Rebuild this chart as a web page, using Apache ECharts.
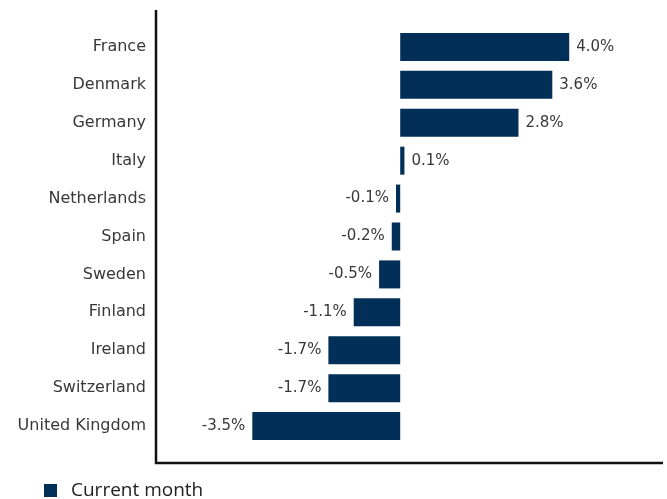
<!DOCTYPE html>
<html>
<head>
<meta charset="utf-8">
<script src="https://cdn.jsdelivr.net/npm/echarts@6/dist/echarts.min.js"></script>
<style>
  html, body { margin: 0; padding: 0; background: #fff; }
  #chart { width: 667px; height: 499px; }
</style>
</head>
<body>
<div id="chart"></div>
<script>
// Monthly change by country, top to bottom
const countries = ['France', 'Denmark', 'Germany', 'Italy', 'Netherlands', 'Spain',
  'Sweden', 'Finland', 'Ireland', 'Switzerland', 'United Kingdom'];
const currentMonth = [4.0, 3.6, 2.8, 0.1, -0.1, -0.2, -0.5, -1.1, -1.7, -1.7, -3.5];
const seriesName = 'Current month';

const barColor = '#012f57';
const labelFont = '"DejaVu Sans", "Noto Sans", sans-serif';
const legendFont = '"Open Sans", "Noto Sans", sans-serif';

const chart = echarts.init(document.getElementById('chart'), null, { renderer: 'canvas' });

chart.setOption({
  animation: false,
  grid: { left: 156, right: 4, top: 28, bottom: 54, containLabel: false },
  xAxis: {
    type: 'value',
    min: -5.78,
    max: 6.22,
    axisLine: { show: false },
    axisTick: { show: false },
    axisLabel: { show: false },
    splitLine: { show: false }
  },
  yAxis: {
    type: 'category',
    data: countries,
    inverse: true,
    axisLine: { show: false },
    axisTick: { show: false },
    axisLabel: {
      margin: 10,
      color: '#383838',
      fontSize: 16,
      fontFamily: labelFont,
      padding: [2, 0, 0, 0]
    }
  },
  legend: {
    show: true,
    left: 44,
    top: 481,
    padding: 0,
    itemWidth: 13,
    itemHeight: 13,
    icon: 'rect',
    textStyle: { fontSize: 19, color: '#222', fontFamily: legendFont, padding: [0, 0, 0, 9] },
    data: [seriesName]
  },
  // L-shaped frame on the left and bottom of the plot
  graphic: [
    {
      type: 'polyline',
      shape: { points: [[156, 10], [156, 463], [663, 463]] },
      style: { stroke: '#111', lineWidth: 2.5, fill: null },
      silent: true
    }
  ],
  series: [{
    name: seriesName,
    type: 'bar',
    // negative values carry their labels on the left of the bar
    data: currentMonth.map(v => ({
      value: v,
      label: { position: v < 0 ? 'left' : 'right' }
    })),
    barWidth: 28,
    itemStyle: { color: barColor },
    label: {
      show: true,
      distance: 7,
      color: '#383838',
      fontSize: 15,
      fontFamily: labelFont,
      padding: [2, 0, 0, 0],
      formatter: p => p.value.toFixed(1) + '%'
    }
  }]
});
</script>
</body>
</html>
